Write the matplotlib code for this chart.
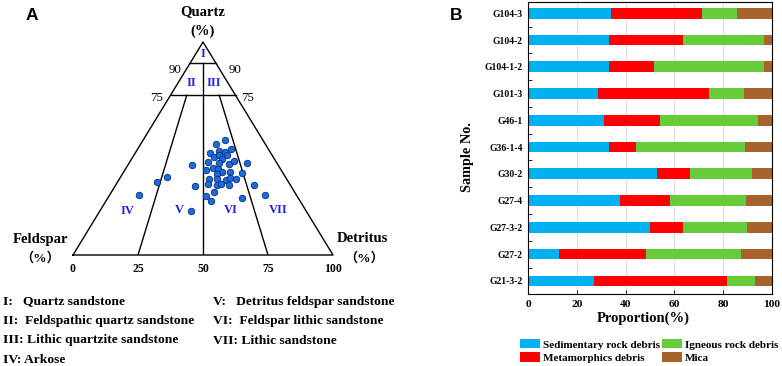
import numpy as np
import matplotlib
matplotlib.use("Agg")
import matplotlib.pyplot as plt
from matplotlib.patches import Patch

W, H = 782, 366
SERIF = ['Liberation Serif', 'DejaVu Serif']
SERIF_CJK = ['Liberation Serif', 'Noto Sans CJK SC']
SANS = ['Liberation Sans', 'DejaVu Sans']

# ---------------- Panel A data (QFR, %) ----------------
quartz = [54.0, 52.0, 49.6, 47.9, 49.0, 48.4, 46.9, 46.2, 46.9, 44.9, 43.8, 43.3, 42.6, 44.3,
          43.1, 42.1, 41.0, 40.2, 39.8, 39.1, 39.1, 38.5, 38.0, 35.8, 35.7, 35.1, 36.0, 35.8,
          33.3, 32.7, 33.3, 32.9, 32.7, 32.3, 36.6, 34.4, 28.2, 29.6, 27.8, 25.4, 26.8, 28.0, 20.8]
detritus = [31.5, 29.0, 36.0, 28.7, 31.8, 34.2, 35.9, 31.2, 32.6, 34.7, 30.0, 34.6, 38.7, 39.7,
            45.5, 24.6, 33.5, 35.7, 31.3, 37.8, 40.7, 45.8, 36.3, 34.5, 37.4, 41.4, 42.3, 44.8,
            35.2, 38.9, 40.3, 43.7, 53.4, 30.9, 17.7, 15.1, 11.4, 39.4, 37.1, 40.3, 51.6, 59.7, 35.1]
feldspar = [100 - q - r for q, r in zip(quartz, detritus)]

base_ticks = [0, 25, 50, 75, 100]
zone_names = ["I", "II", "III", "IV", "V", "VI", "VII"]
legend_left = ["I:   Quartz sandstone", "II:  Feldspathic quartz sandstone",
               "III: Lithic quartzite sandstone", "IV: Arkose"]
legend_right = ["V:   Detritus feldspar sandstone", "VI:  Feldspar lithic sandstone",
                "VII: Lithic sandstone"]

# ---------------- Panel B data ----------------
samples = ["G104-3", "G104-2", "G104-1-2", "G101-3", "G46-1", "G36-1-4", "G30-2",
           "G27-4", "G27-3-2", "G27-2", "G21-3-2"]
sedimentary = [34.2, 33.2, 33.2, 28.5, 31.3, 33.2, 52.7, 37.9, 49.9, 12.9, 27.1]
metamorphic = [37.2, 30.2, 18.4, 45.8, 22.9, 11.2, 13.8, 20.5, 13.5, 35.5, 54.6]
igneous = [14.3, 33.2, 45.3, 14.1, 39.9, 44.4, 25.1, 31.1, 26.5, 38.8, 11.4]
mica = [14.3, 3.4, 3.1, 11.6, 5.9, 11.2, 8.4, 10.5, 10.1, 12.8, 6.9]
series_names = ["Sedimentary rock debris", "Metamorphics debris", "Igneous rock debris", "Mica"]
series_colors = ["#00b0f0", "#ff0000", "#66cc3a", "#a8622b"]
x_ticks = [0, 20, 40, 60, 80, 100]

fig = plt.figure(figsize=(W / 100, H / 100), dpi=100)


def ftext(px, py, s, **kw):
    fig.text(px / W, 1 - py / H, s, ha=kw.pop('ha', 'center'), va=kw.pop('va', 'center'), **kw)


# ---------------- Panel A ----------------
axt = fig.add_axes([73 / W, (H - 255) / H, 260 / W, 213 / H])
axt.set_xlim(0, 1)
axt.set_ylim(0, 1)
axt.axis('off')


def tern(q, r):
    q = np.asarray(q, float) / 100
    r = np.asarray(r, float) / 100
    return r + q / 2, q


lw = 1.0
tx, ty = tern([0, 100, 0, 0], [0, 0, 100, 0])
axt.plot(tx, ty, color='black', lw=lw, clip_on=False)
for q in (90, 75):
    x, y = tern([q, q], [0, 100 - q])
    axt.plot(x, y, color='black', lw=lw)
x, y = tern([90, 0], [5, 50])
axt.plot(x, y, color='black', lw=lw)
for frac in (0.25, 0.75):
    x, y = tern([75, 0], [25 * frac, 100 * frac])
    axt.plot(x, y, color='black', lw=lw)

px_, py_ = tern(quartz, detritus)
axt.scatter(px_, py_, s=22, color='#1a6be0', edgecolor='#0b2f70', linewidth=0.6, zorder=3)

for t in base_ticks:
    x, _ = tern(0, t)
    axt.text(x, -0.068, str(t), ha='center', va='center', fontsize=8.5, fontweight='bold',
             family=SERIF, clip_on=False)

zone_pos = [(203, 54), (191, 83), (214, 83), (127, 211), (179, 210), (231, 210), (278, 210)]
for name, (zx, zy) in zip(zone_names, zone_pos):
    ftext(zx, zy, name, fontsize=9, fontweight='bold', family=SERIF, color='#2020f0')

ftext(175, 70, "90", fontsize=9.3, family=SERIF)
ftext(235, 70, "90", fontsize=9.3, family=SERIF)
ftext(157, 98, "75", fontsize=9.3, family=SERIF)
ftext(248, 98, "75", fontsize=9.3, family=SERIF)

ftext(203, 12, "Quartz", fontsize=10.5, fontweight='bold', family=SERIF)
ftext(203, 31, "(%)", fontsize=10.5, fontweight='bold', family=SERIF)
ftext(40, 239, "Feldspar", fontsize=10.5, fontweight='bold', family=SERIF)
ftext(40, 258, "（%）", fontsize=9.5, fontweight='bold', family=SERIF_CJK)
ftext(362, 239, "Detritus", fontsize=10.5, fontweight='bold', family=SERIF)
ftext(364, 258, "（%）", fontsize=9.5, fontweight='bold', family=SERIF_CJK)

ftext(32, 15, "A", fontsize=12.5, fontweight='bold', family=SANS)

for i, s in enumerate(legend_left):
    ftext(3, 304.5 + 19.5 * i, s, ha='left', va='baseline', fontsize=9.7, fontweight='bold',
          family=SERIF)
for i, s in enumerate(legend_right):
    ftext(213, 304.5 + 19.5 * i, s, ha='left', va='baseline', fontsize=9.7, fontweight='bold',
          family=SERIF)

# ---------------- Panel B ----------------
axb = fig.add_axes([528 / W, (H - 294) / H, 244 / W, 292 / H])
n = len(samples)
ypos = np.arange(n)[::-1]
left = np.zeros(n)
handles = []
for vals, name, col in zip([sedimentary, metamorphic, igneous, mica], series_names, series_colors):
    vals = np.asarray(vals)
    axb.barh(ypos, vals, left=left, height=0.4, color=col, zorder=2)
    left = left + vals
    handles.append(Patch(facecolor=col, label=name))

axb.set_xlim(0, 100)
axb.set_ylim(-0.49, 10.42)
axb.set_xticks(x_ticks)
axb.set_xticklabels([str(v) for v in x_ticks], fontsize=8.2, fontweight='bold', family=SERIF)
axb.set_yticks(ypos)
axb.set_yticklabels(samples, fontsize=6.9, fontweight='bold', family=SERIF)
axb.tick_params(axis='y', which='major', length=0, pad=4)
axb.set_yticks(np.arange(n - 1) + 0.5, minor=True)
axb.tick_params(axis='y', which='minor', direction='in', length=3, width=0.6)
axb.tick_params(axis='x', which='major', direction='in', length=3, width=0.6, pad=4)
axb.grid(axis='x', color='#dcdcdc', lw=0.8, zorder=0)
axb.set_axisbelow(True)
for sp in axb.spines.values():
    sp.set_linewidth(0.8)

ftext(643, 318, "Proportion(%)", fontsize=10.5, fontweight='bold', family=SERIF)
ftext(467, 157, "Sample No.", fontsize=10.3, fontweight='bold', family=SERIF, rotation=90)
ftext(456, 15, "B", fontsize=12.5, fontweight='bold', family=SANS)

fig.legend(handles=handles, ncol=2, loc='upper left', bbox_to_anchor=(514 / W, 1 - 333.5 / H),
           frameon=False, borderpad=0, handlelength=1.8, handleheight=0.9, handletextpad=0.27,
           columnspacing=0.2, labelspacing=0.25,
           prop={'family': SERIF, 'weight': 'bold', 'size': 8})

fig.savefig("out.png", dpi=100)
